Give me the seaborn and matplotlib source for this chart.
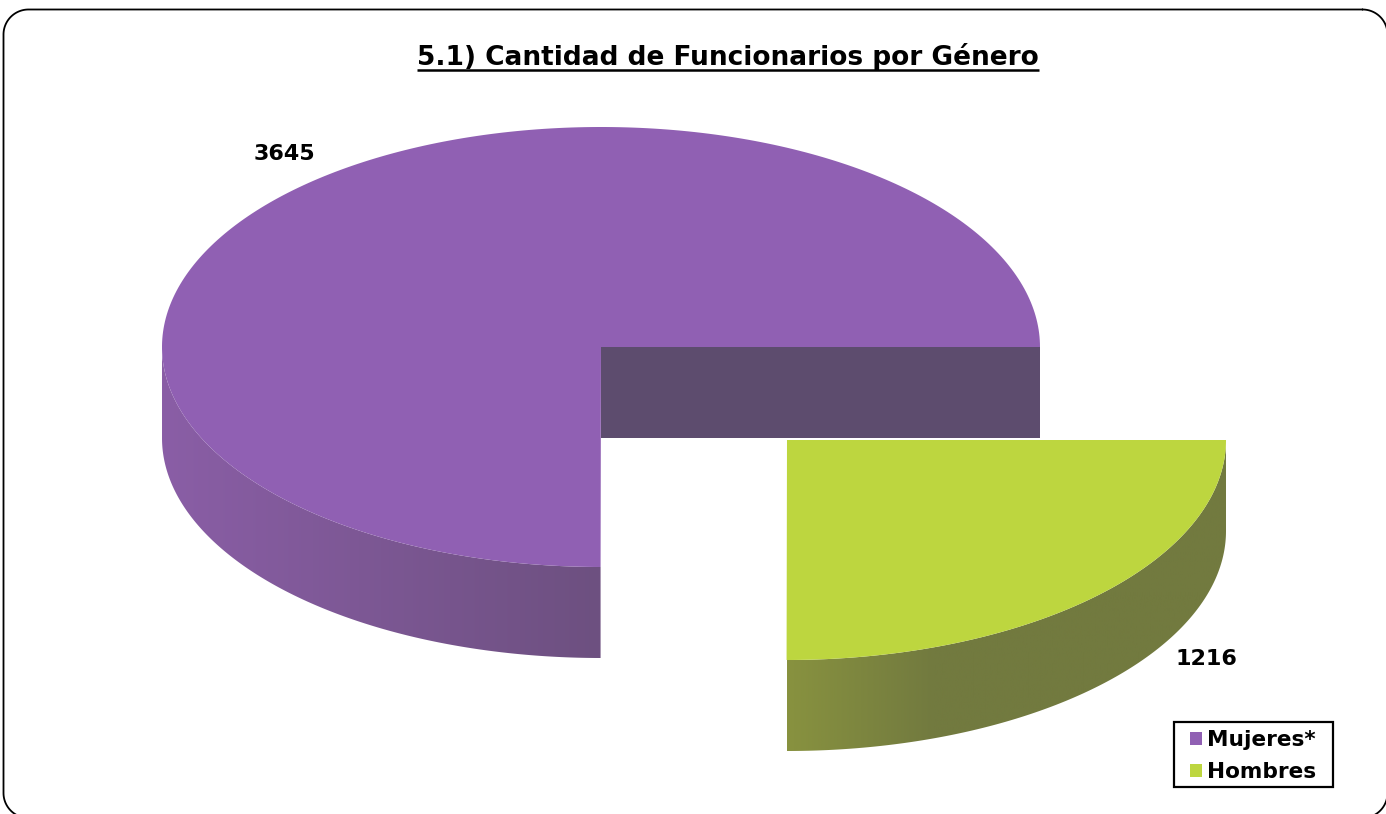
import numpy as np
import pandas as pd
import matplotlib
matplotlib.use("Agg")
import matplotlib.pyplot as plt
from matplotlib.patches import Patch, Polygon, Rectangle
import seaborn as sns

# Data
generos = ["Mujeres*", "Hombres"]
funcionarios = [3645, 1216]
colores = ["#9060B3", "#BDD63F"]
titulo = "5.1) Cantidad de Funcionarios por Género"

# Pie geometry, in image pixels
RX, RY, DEPTH = 439, 220, 91
CENTRO_M = (601, 347)
CENTRO_H = (787, 440)


def arc(center, t0, t1, dy=0):
    t = np.radians(np.linspace(t0, t1, 300))
    return np.column_stack([center[0] + RX * np.cos(t), center[1] + dy + RY * np.sin(t)])


def draw_wall(ax, center, t0, t1, stops):
    # Outer rim of a slice, shaded left to right with a blended palette
    top = arc(center, t0, t1)
    bottom = arc(center, t0, t1, DEPTH)[::-1]
    clip = Polygon(np.vstack([top, bottom]), closed=True, transform=ax.transData)
    x0, x1 = top[:, 0].min(), top[:, 0].max()
    cmap = sns.blend_palette(stops, as_cmap=True)
    im = ax.imshow(np.linspace(0, 1, 256).reshape(1, -1), cmap=cmap, aspect="auto",
                   extent=(x0, x1, center[1] + RY + DEPTH, center[1]), zorder=1)
    im.set_clip_path(clip)


def draw_top(ax, center, t0, t1, color, zorder):
    pts = np.vstack([[center], arc(center, t0, t1)])
    ax.add_patch(Polygon(pts, closed=True, fc=color, ec="none", zorder=zorder))


def draw_frame(ax, x0, y0, x1, y1, r):
    # Rounded chart border, one quarter circle per corner
    corners = [(x1 - r, y0 + r, -90), (x1 - r, y1 - r, 0), (x0 + r, y1 - r, 90), (x0 + r, y0 + r, 180)]
    pts = []
    for cx, cy, start in corners:
        t = np.radians(np.linspace(start, start + 90, 30))
        pts.append(np.column_stack([cx + r * np.cos(t), cy + r * np.sin(t)]))
    pts = np.vstack(pts + [pts[0][:1]])
    ax.plot(pts[:, 0], pts[:, 1], color="black", lw=1.3, zorder=0)


def main():
    sns.set_theme(style="white")
    plt.rcParams["font.family"] = ["DejaVu Sans"]

    df = pd.DataFrame({"genero": generos, "n": funcionarios, "color": colores})
    df["grados"] = df["n"] / df["n"].sum() * 360

    fig = plt.figure(figsize=(13.86, 8.14), dpi=100)
    ax = fig.add_axes([0, 0, 1, 1])

    # Hombres runs clockwise from the east, Mujeres takes the rest
    h_end = df.loc[1, "grados"]
    m_end = h_end + df.loc[0, "grados"]

    draw_wall(ax, CENTRO_M, h_end, 180, ["#8A5EA6", "#6D5080"])
    ax.add_patch(Rectangle(CENTRO_M, RX, DEPTH, fc="#5D4C6E", ec="none", zorder=2))
    draw_top(ax, CENTRO_M, h_end, m_end, df.loc[0, "color"], 3)

    draw_wall(ax, CENTRO_H, 0, h_end, ["#88923F", "#727A3F", "#727A3F", "#727A3F"])
    draw_top(ax, CENTRO_H, 0, h_end, df.loc[1, "color"], 3)

    draw_frame(ax, 3.5, 9.5, 1387.5, 818, 25)

    ax.set_xlim(0, 1386)
    ax.set_ylim(814, 0)
    ax.axis("off")

    tt = ax.text(728, 65, titulo, ha="center", va="baseline", fontsize=19, fontweight="bold", color="black")
    fig.canvas.draw()
    box = tt.get_window_extent().transformed(ax.transData.inverted())
    ax.plot([box.x0, box.x1], [69.5, 69.5], color="black", lw=1.8, solid_capstyle="butt")

    ax.text(284.5, 154, str(funcionarios[0]), ha="center", va="center", fontsize=16, fontweight="bold", color="black")
    ax.text(1206.5, 659, str(funcionarios[1]), ha="center", va="center", fontsize=16, fontweight="bold", color="black")

    # Legend box is its own rectangle, its padding is wider than it is tall
    ax.add_patch(Rectangle((1174, 722), 159, 65, fc="white", ec="black", lw=1.6, zorder=4))
    handles = [Patch(fc=c, ec="none") for c in colores]
    leg = ax.legend(handles, generos, loc="upper left", bbox_to_anchor=(1190, 730),
                    bbox_transform=ax.transData, frameon=False, labelcolor="black",
                    prop={"size": 15.6, "weight": "bold"},
                    handlelength=0.55, handleheight=0.55, handletextpad=0.23,
                    labelspacing=0.57, borderpad=0, borderaxespad=0)
    leg.set_zorder(5)

    fig.savefig("out.png", dpi=100)


if __name__ == "__main__":
    main()
